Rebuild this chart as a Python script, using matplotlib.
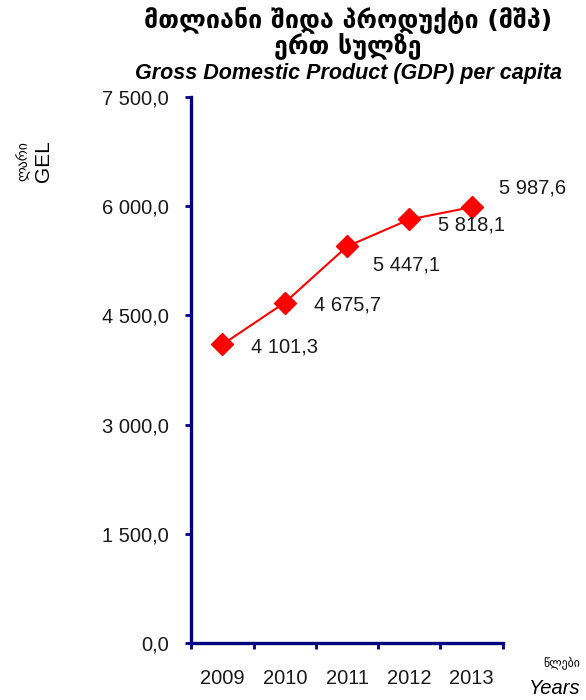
import matplotlib
matplotlib.use("Agg")
import matplotlib.pyplot as plt
from matplotlib.ticker import FixedLocator, FuncFormatter

years = ["2009", "2010", "2011", "2012", "2013"]
gdp_per_capita = [4101.3, 4675.7, 5447.1, 5818.1, 5987.6]
y_ticks = [0, 1500, 3000, 4500, 6000, 7500]

# label offsets in points (style, not data)
label_offsets = [(45, -2), (45, -2), (43, -13), (45, -4), (44, 14)]

NAVY = "#000080"
plt.rcParams['font.family'] = ['Liberation Sans', 'DejaVu Sans']

def fmt(v):
    s = f"{v:,.1f}"
    return s.replace(",", " ").replace(".", ",")

fig = plt.figure(figsize=(5.86, 7.0), dpi=100)
ax = fig.add_axes([0.3265, 0.0814, 0.5315, 0.7800])

x = list(range(len(years)))
ax.plot(x, gdp_per_capita, color="#FF0000", lw=1.5, marker="D", markersize=11,
        markeredgecolor="#FF0000", markerfacecolor="#FF0000", zorder=3)

for xi, v, off in zip(x, gdp_per_capita, label_offsets):
    ax.annotate(fmt(v), (xi, v), xytext=off, textcoords="offset points",
                ha="center", va="center", fontsize=14.5, color="#1a1a1a")

ax.set_xlim(-0.5, len(years) - 0.5)
ax.set_ylim(0, 7500)
ax.set_yticks(y_ticks)
ax.yaxis.set_major_formatter(FuncFormatter(lambda v, p: fmt(v)))
ax.set_xticks(x)
ax.set_xticklabels(years)
ax.xaxis.set_minor_locator(FixedLocator([i - 0.5 for i in range(len(years) + 1)]))

for s in ["top", "right"]:
    ax.spines[s].set_visible(False)
for s in ["left", "bottom"]:
    ax.spines[s].set_color(NAVY)
    ax.spines[s].set_linewidth(2.4)

ax.tick_params(axis="y", direction="out", length=4, width=2, color=NAVY,
               labelsize=14.5, pad=12, labelcolor="#1a1a1a")
ax.tick_params(axis="x", which="major", length=0, labelsize=14.5, pad=19,
               labelcolor="#1a1a1a")
ax.tick_params(axis="x", which="minor", direction="out", length=4, width=2,
               color=NAVY)

fig.text(0.594, 0.971, "მთლიანი შიდა პროდუქტი (მშპ)", ha="center", va="center",
         fontsize=18, fontweight="bold", family=["DejaVu Sans"])
fig.text(0.594, 0.933, "ერთ სულზე", ha="center", va="center",
         fontsize=18, fontweight="bold", family=["DejaVu Sans"])
fig.text(0.594, 0.895, "Gross Domestic Product (GDP) per capita", ha="center",
         va="center", fontsize=15.5, fontweight="bold", style="italic")

fig.text(0.039, 0.770, "ლარი", rotation=90, ha="center", va="center",
         fontsize=10, family=["DejaVu Sans"])
fig.text(0.075, 0.770, "GEL", rotation=90, ha="center", va="center", fontsize=15)

fig.text(0.959, 0.052, "წლები", ha="center", va="center", fontsize=8.5,
         family=["DejaVu Sans"])
fig.text(0.946, 0.017, "Years", ha="center", va="center", fontsize=14.5,
         style="italic")

fig.savefig("out.png", dpi=100)
